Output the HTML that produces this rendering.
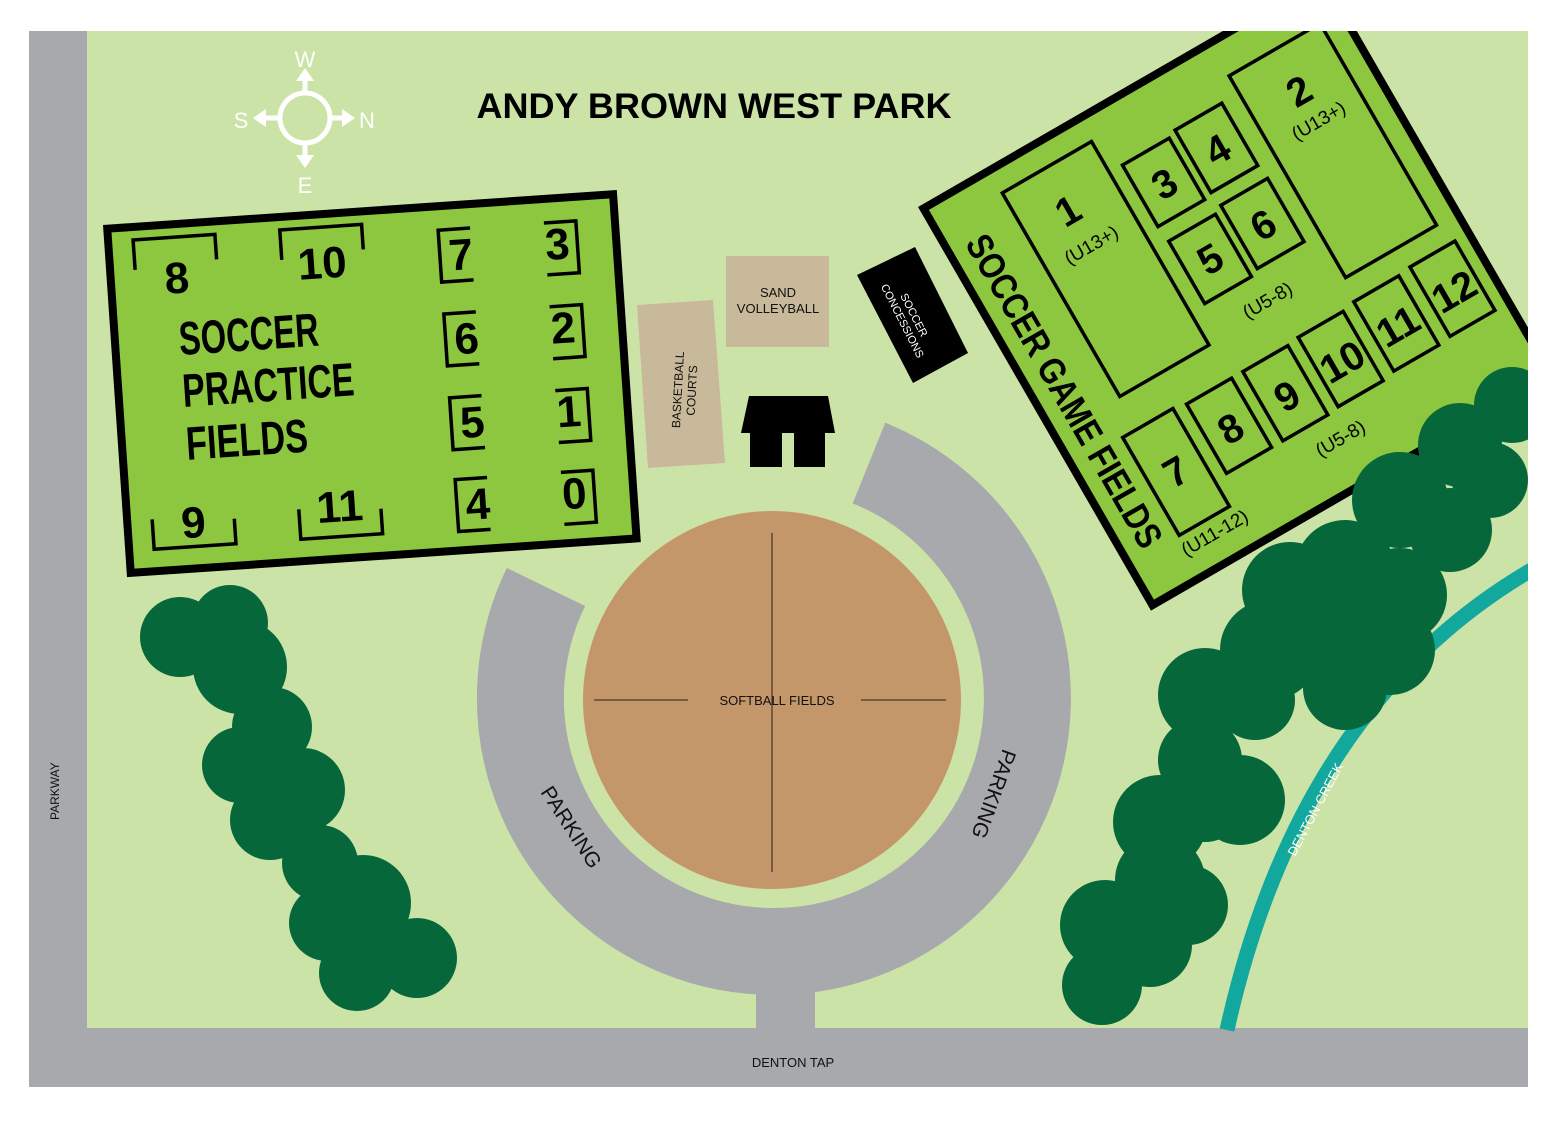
<!DOCTYPE html>
<html><head><meta charset="utf-8"><style>
html,body{margin:0;padding:0;background:#fff;}
svg{display:block;}
.nar{font-family:"Liberation Sans Narrow","Liberation Sans",sans-serif;font-weight:bold;}
.sans{font-family:"Liberation Sans",sans-serif;}
</style></head><body>
<svg width="1561" height="1125" viewBox="0 0 1561 1125" xmlns="http://www.w3.org/2000/svg">
<defs><clipPath id="map"><rect x="29" y="31" width="1499" height="1056"/></clipPath></defs>
<rect x="0" y="0" width="1561" height="1125" fill="#fff"/>
<g clip-path="url(#map)">
<rect x="29" y="31" width="1499" height="1056" fill="#cce3a8"/>
<rect x="29" y="31" width="58" height="1056" fill="#a7a9ac"/>
<rect x="29" y="1028" width="1499" height="59" fill="#a7a9ac"/>
<rect x="756" y="960" width="59" height="75" fill="#a7a9ac"/>
<path d="M869,463 A253.5,253.5 0 1 1 546,587" fill="none" stroke="#a7a9ac" stroke-width="87"/>
<circle cx="772" cy="700" r="189" fill="#c4976a"/>
<line x1="772" y1="533" x2="772" y2="872" stroke="#4a3a2a" stroke-width="1.3"/>
<line x1="594" y1="700" x2="688" y2="700" stroke="#4a3a2a" stroke-width="1.3"/>
<line x1="861" y1="700" x2="946" y2="700" stroke="#4a3a2a" stroke-width="1.3"/>
<text x="777" y="705" font-size="13" text-anchor="middle" class="sans" fill="#111">SOFTBALL FIELDS</text>
<text class="sans" font-size="21" fill="#111" transform="translate(540,792) rotate(57)">PARKING</text>
<text class="sans" font-size="21" fill="#111" transform="translate(1003,748) rotate(110)">PARKING</text>

<path d="M1227,1030 Q1300,700 1540,565" fill="none" stroke="#13a89e" stroke-width="15"/>
<text class="sans" font-size="13" fill="#fff" transform="translate(1295,857) rotate(-62)">DENTON CREEK</text>

<g fill="#05673a">
<circle cx="180" cy="637" r="40"/><circle cx="230" cy="623" r="38"/><circle cx="240" cy="667" r="47"/>
<circle cx="272" cy="727" r="40"/><circle cx="240" cy="765" r="38"/><circle cx="303" cy="790" r="42"/>
<circle cx="270" cy="820" r="40"/><circle cx="320" cy="863" r="38"/><circle cx="363" cy="903" r="48"/>
<circle cx="327" cy="923" r="38"/><circle cx="357" cy="973" r="38"/><circle cx="417" cy="958" r="40"/>
</g>

<polygon points="637,305 713,300 725,463 648,468" fill="#c8b99a"/>
<text class="sans" font-size="12" fill="#111" text-anchor="middle" transform="translate(682,390) rotate(-87)"><tspan x="0" y="0">BASKETBALL</tspan><tspan x="0" y="14">COURTS</tspan></text>
<rect x="726" y="256" width="103" height="91" fill="#c8b99a"/>
<text class="sans" font-size="13" fill="#111" text-anchor="middle"><tspan x="778" y="297">SAND</tspan><tspan x="778" y="313">VOLLEYBALL</tspan></text>
<polygon points="857,275 915,247 968,353 913,383" fill="#000"/>
<text class="sans" font-size="11" fill="#fff" text-anchor="middle" transform="translate(908,318) rotate(63)"><tspan x="0" y="-3">SOCCER</tspan><tspan x="0" y="10">CONCESSIONS</tspan></text>
<polygon points="749,396 828,396 835,433 825,433 825,467 794,467 794,433 782,433 782,467 750,467 750,433 741,433" fill="#000"/>

<g stroke="#fff" stroke-width="5" fill="none">
<circle cx="305" cy="118" r="25"/>
<line x1="305" y1="93" x2="305" y2="78"/><line x1="305" y1="143" x2="305" y2="158"/>
<line x1="280" y1="118" x2="263" y2="118"/><line x1="330" y1="118" x2="345" y2="118"/>
</g>
<g fill="#fff">
<polygon points="305,68 296,81 314,81"/><polygon points="305,168 296,155 314,155"/>
<polygon points="253,118 266,109 266,127"/><polygon points="355,118 342,109 342,127"/>
</g>
<g class="sans" font-size="22" fill="#fff" text-anchor="middle">
<text x="305" y="67">W</text><text x="305" y="193">E</text><text x="241" y="128">S</text><text x="367" y="128">N</text>
</g>

<text x="714" y="118" class="sans" font-weight="bold" font-size="35" text-anchor="middle" textLength="475" lengthAdjust="spacingAndGlyphs">ANDY BROWN WEST PARK</text>

<g transform="translate(103,225) rotate(-3.9)">
<rect x="4" y="4" width="507" height="345" fill="#8dc63f" stroke="#000" stroke-width="8"/>
<g fill="none" stroke="#000" stroke-width="3.5">
<polyline points="29,47 29,17 111,17 111,42"/>
<polyline points="176,47 176,17 258,17 258,42"/>
<polyline points="29,297 29,327 111,327 111,302"/>
<polyline points="176,297 176,327 258,327 258,302"/>
<polyline points="366,28 334,28 334,80 366,80"/>
<polyline points="366,112 334,112 334,164 366,164"/>
<polyline points="366,196 334,196 334,248 366,248"/>
<polyline points="366,278 334,278 334,330 366,330"/>
<polyline points="440,28 472,28 472,80 440,80"/>
<polyline points="440,112 472,112 472,164 440,164"/>
<polyline points="440,196 472,196 472,248 440,248"/>
<polyline points="440,278 472,278 472,330 440,330"/>
</g>
<g class="nar" font-size="44" text-anchor="middle" fill="#000">
<text x="70" y="73">8</text><text x="216" y="68">10</text>
<text x="70" y="318">9</text><text x="217" y="312">11</text>
<text x="355" y="69">7</text><text x="355" y="153">6</text><text x="355" y="237">5</text><text x="355" y="319">4</text>
<text x="452" y="65">3</text><text x="452" y="149">2</text><text x="452" y="233">1</text><text x="452" y="315">0</text>
</g>
<g class="nar" font-size="47" fill="#000">
<text x="68" y="135" textLength="140" lengthAdjust="spacingAndGlyphs">SOCCER</text>
<text x="68" y="187" textLength="172" lengthAdjust="spacingAndGlyphs">PRACTICE</text>
<text x="68" y="240" textLength="122" lengthAdjust="spacingAndGlyphs">FIELDS</text>
</g>
</g>

<g transform="translate(918,207) rotate(-30)">
<rect x="4" y="4" width="460" height="458" fill="#8dc63f" stroke="#000" stroke-width="8"/>
<g fill="none" stroke="#000" stroke-width="3.5">
<rect x="80" y="30" width="103" height="235"/>
<rect x="335" y="42" width="105" height="233"/>
<rect x="198" y="66" width="54" height="71"/>
<rect x="261" y="62" width="54" height="72"/>
<rect x="200" y="155" width="54" height="72"/>
<rect x="263" y="150" width="54" height="73"/>
<rect x="62" y="302" width="58" height="113"/>
<rect x="134" y="305" width="52" height="80"/>
<rect x="199" y="305" width="52" height="80"/>
<rect x="264" y="303" width="52" height="80"/>
<rect x="330" y="300" width="52" height="80"/>
<rect x="396" y="298" width="52" height="80"/>
</g>
<g class="nar" font-size="40" text-anchor="middle" fill="#000">
<text x="128" y="92">1</text><text x="388" y="104">2</text>
<text x="225" y="117">3</text><text x="288" y="114">4</text>
<text x="227" y="205">5</text><text x="290" y="202">6</text>
<text x="91" y="372">7</text><text x="160" y="362">8</text><text x="225" y="362">9</text>
<text x="290" y="360">10</text><text x="356" y="357">11</text><text x="422" y="355">12</text>
</g>
<g class="sans" font-size="19" text-anchor="middle" fill="#000">
<text x="131" y="126">(U13+)</text><text x="390" y="132">(U13+)</text>
<text x="256" y="262">(U5-8)</text><text x="250" y="418">(U5-8)</text>
<text x="94" y="437">(U11-12)</text>
</g>
<text class="nar" font-size="37" fill="#000" transform="translate(22,55) rotate(90)" textLength="355" lengthAdjust="spacingAndGlyphs">SOCCER GAME FIELDS</text>
</g>

<g fill="#05673a">
<circle cx="1102" cy="985" r="40"/><circle cx="1105" cy="925" r="45"/><circle cx="1150" cy="945" r="42"/>
<circle cx="1160" cy="880" r="45"/><circle cx="1188" cy="905" r="40"/><circle cx="1160" cy="822" r="47"/>
<circle cx="1205" cy="800" r="42"/><circle cx="1240" cy="800" r="45"/><circle cx="1200" cy="760" r="42"/>
<circle cx="1205" cy="695" r="47"/><circle cx="1255" cy="700" r="40"/><circle cx="1270" cy="650" r="50"/>
<circle cx="1300" cy="610" r="50"/><circle cx="1290" cy="590" r="48"/><circle cx="1345" cy="570" r="50"/>
<circle cx="1390" cy="650" r="45"/><circle cx="1345" cy="688" r="42"/><circle cx="1330" cy="640" r="45"/>
<circle cx="1400" cy="500" r="48"/><circle cx="1400" cy="595" r="47"/><circle cx="1450" cy="530" r="42"/>
<circle cx="1460" cy="445" r="42"/><circle cx="1490" cy="480" r="38"/><circle cx="1512" cy="405" r="38"/>
</g>

<text class="sans" font-size="12" fill="#111" transform="translate(59,820) rotate(-90)">PARKWAY</text>
<text class="sans" font-size="13" fill="#111" x="793" y="1067" text-anchor="middle">DENTON TAP</text>
</g>
</svg>
</body></html>
